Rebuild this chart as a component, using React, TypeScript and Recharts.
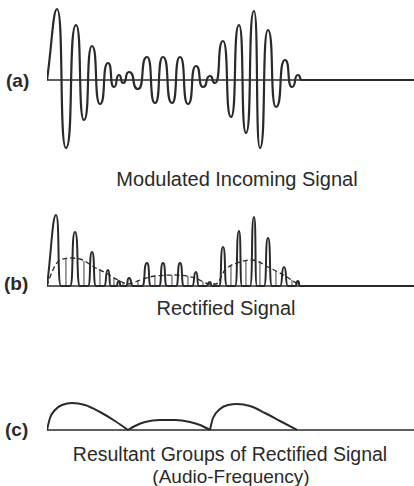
import React from 'react';
import { LineChart, ComposedChart, Line, Bar, XAxis, YAxis, ReferenceLine } from 'recharts';

// (a) Modulated incoming signal: extrema of the carrier (x position, amplitude)
const SIG_X = [47, 57, 66, 76, 84, 92, 100, 108, 114, 119, 123, 129, 138, 147, 155, 163, 172, 180, 188, 196, 203, 210, 215, 223, 231, 239, 246, 254, 260, 268, 276, 285, 292, 298, 302, 414];
const SIG_Y = [0, 71, -68, 55, -40, 34, -24, 17, -7, 5, -3, 8, -9, 23, -23, 23, -23, 23, -24, 14, -7, 4, -3, 39, -37, 55, -53, 69, -68, 50, -27, 20, -7, 5, 0, 0];

// (b) Rectified signal: positive half-cycles only
const RECT_X = [47, 56, 61, 70, 75, 80, 88, 92, 96, 104, 108, 111, 116, 119, 121, 126, 129, 133, 142, 147, 151, 159, 163, 167, 176, 180, 184, 192, 196, 199, 206, 210, 212, 219, 223, 227, 235, 239, 242, 250, 254, 257, 264, 268, 272, 280, 284, 288, 295, 298, 300, 414];
const RECT_Y = [0, 71, 0, 0, 54, 0, 0, 34, 0, 0, 16, 0, 0, 5, 0, 0, 8, 0, 0, 23, 0, 0, 23, 0, 0, 23, 0, 0, 14, 0, 0, 4, 0, 0, 39, 0, 0, 55, 0, 0, 69, 0, 0, 48, 0, 0, 19, 0, 0, 5, 0, 0];
// dashed average envelope
const ENV_X = [47, 52, 60, 70, 80, 94, 106, 118, 128, 140, 155, 175, 195, 210, 216, 225, 240, 252, 270, 287, 300];
const ENV_Y = [0, 14, 26, 28, 27, 19, 13, 6, 2, 6, 10, 11, 8, 2, 2, 16, 24, 26, 18, 9, 0];
// vertical hatch lines between the pulses
const HATCH_X = [66, 84, 100, 114, 123, 138, 155, 172, 188, 203, 215, 231, 246, 260, 276, 292];
const HATCH_Y = [27, 25, 17, 8, 4, 6, 10, 11, 10, 4, 2, 20, 25, 25, 15, 6];

// (c) Resultant audio-frequency groups
const G1_X = [47, 50, 55, 62, 72, 85, 100, 115, 128];
const G1_Y = [0, 12, 20, 25, 27, 25, 18, 9, 0];
const G2_X = [128, 135, 145, 160, 175, 190, 200, 210];
const G2_Y = [0, 4, 8, 10, 10, 8, 5, 0];
const G3_X = [210, 213, 220, 228, 237, 250, 265, 280, 297];
const G3_Y = [0, 12, 21, 25, 26, 24, 17, 9, 0];

const LABELS = ['(a)', '(b)', '(c)'];
const CAPTIONS = ['Modulated Incoming Signal', 'Rectified Signal', 'Resultant Groups of Rectified Signal', '(Audio-Frequency)'];

const toPts = (xs: number[], ys: number[]) => xs.map((x, i) => ({ x, v: ys[i] }));
const sigData = toPts(SIG_X, SIG_Y);
const rectData = toPts(RECT_X, RECT_Y);
const envData = toPts(ENV_X, ENV_Y);
const hatchData = HATCH_X.map((x, i) => ({ x, h: HATCH_Y[i] }));
const g1 = toPts(G1_X, G1_Y);
const g2 = toPts(G2_X, G2_Y);
const g3 = toPts(G3_X, G3_Y);

// pen-like curve: flat, rounded tops at each extremum, near-vertical crossings
const K = 0.78;
function penCurve(context: any) {
  let px = 0, py = 0, n = 0;
  return {
    areaStart() {},
    areaEnd() {},
    lineStart() { n = 0; },
    lineEnd() {},
    point(x: number, y: number) {
      x = +x; y = +y;
      if (n === 0) {
        context.moveTo(x, y);
      } else {
        const dx = x - px, dy = y - py;
        if (n === 1) {
          context.bezierCurveTo(px + dx * 0.5, py + dy * 0.5, x - dx * 0.4, y, x, y);
        } else {
          context.bezierCurveTo(px + dx * K, py, x - dx * K, y, x, y);
        }
      }
      px = x; py = y; n++;
    },
  };
}

const INK = '#2a2a2a';
const FONT = '"Liberation Sans", Arial, sans-serif';
const M = { top: 0, right: 0, bottom: 0, left: 47 };

export default function App() {
  return (
    <div style={{ position: 'absolute', left: 0, top: 0, width: 414, height: 486, background: '#fff', overflow: 'hidden' }}>
      <div style={{ position: 'absolute', left: 0, top: 0 }}>
        <LineChart width={414} height={160} data={sigData} margin={M}>
          <XAxis type="number" dataKey="x" domain={[47, 414]} hide allowDataOverflow />
          <YAxis type="number" domain={[-80, 80]} hide allowDataOverflow />
          <ReferenceLine y={0} stroke={INK} strokeWidth={1.5} />
          <Line type={penCurve as any} dataKey="v" stroke={INK} strokeWidth={2.2} dot={false} isAnimationActive={false} />
        </LineChart>
      </div>
      <div style={{ position: 'absolute', left: 0, top: 180 }}>
        <ComposedChart width={414} height={120} data={hatchData} margin={M}>
          <XAxis type="number" dataKey="x" domain={[47, 414]} hide allowDataOverflow />
          <YAxis type="number" domain={[-14, 106]} hide allowDataOverflow />
          <ReferenceLine y={0} stroke={INK} strokeWidth={1.5} />
          <Bar dataKey="h" fill={INK} barSize={1.5} isAnimationActive={false} />
          <Line data={envData} type="monotone" dataKey="v" stroke={INK} strokeWidth={1.3} strokeDasharray="5 3" dot={false} isAnimationActive={false} />
          <Line data={rectData} type={penCurve as any} dataKey="v" stroke={INK} strokeWidth={2} dot={false} isAnimationActive={false} />
        </ComposedChart>
      </div>
      <div style={{ position: 'absolute', left: 0, top: 380 }}>
        <LineChart width={414} height={60} margin={M}>
          <XAxis type="number" dataKey="x" domain={[47, 414]} hide allowDataOverflow />
          <YAxis type="number" domain={[-10, 50]} hide allowDataOverflow />
          <ReferenceLine y={0} stroke={INK} strokeWidth={1.5} />
          <Line data={g1} type="monotone" dataKey="v" stroke={INK} strokeWidth={2} dot={false} isAnimationActive={false} />
          <Line data={g2} type="monotone" dataKey="v" stroke={INK} strokeWidth={2} dot={false} isAnimationActive={false} />
          <Line data={g3} type="monotone" dataKey="v" stroke={INK} strokeWidth={2} dot={false} isAnimationActive={false} />
        </LineChart>
      </div>
      <svg style={{ position: 'absolute', left: 0, top: 0 }} width={414} height={486}>
        <g fontFamily={FONT} fill={INK}>
          <text x={6} y={87} fontSize={19} fontWeight="bold">{LABELS[0]}</text>
          <text x={4} y={290} fontSize={19} fontWeight="bold">{LABELS[1]}</text>
          <text x={5} y={436} fontSize={19} fontWeight="bold">{LABELS[2]}</text>
          <text x={237} y={186} fontSize={20} textAnchor="middle">{CAPTIONS[0]}</text>
          <text x={226} y={315} fontSize={20} textAnchor="middle">{CAPTIONS[1]}</text>
          <text x={230} y={461} fontSize={19.5} textAnchor="middle">{CAPTIONS[2]}</text>
          <text x={231} y={483} fontSize={19} textAnchor="middle">{CAPTIONS[3]}</text>
        </g>
      </svg>
    </div>
  );
}
